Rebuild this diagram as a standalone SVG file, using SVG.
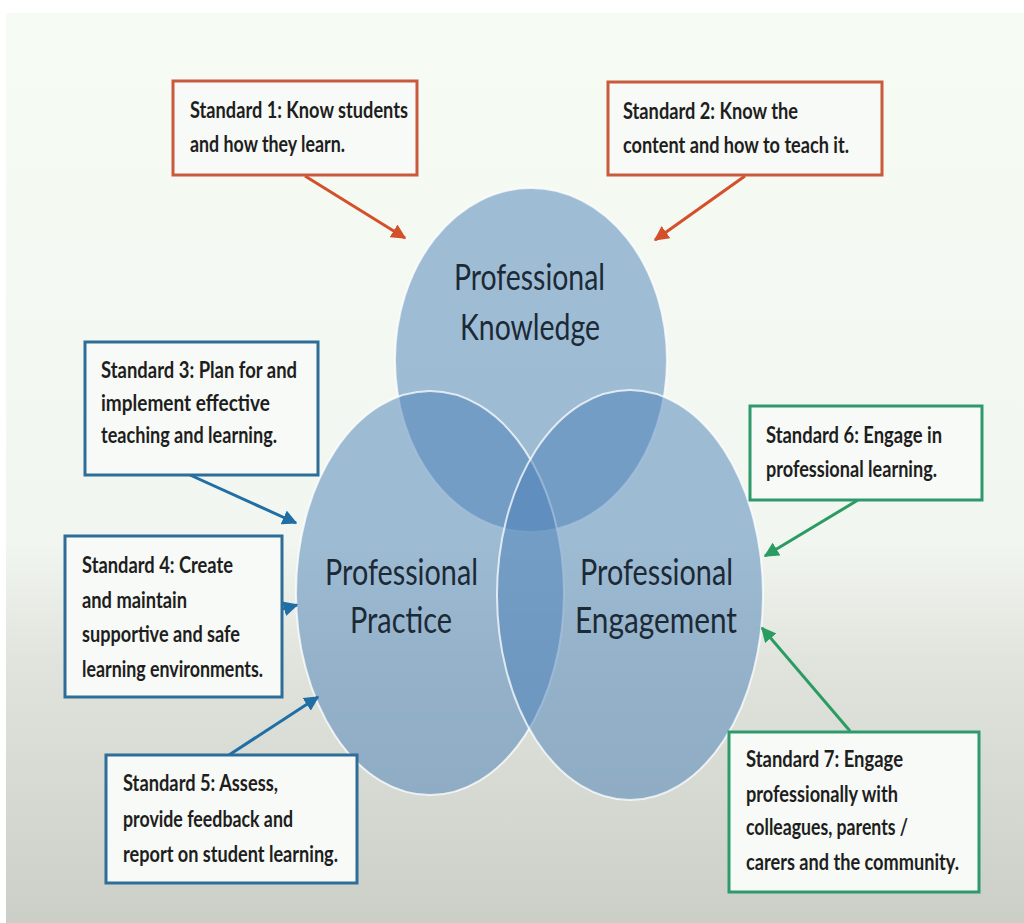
<svg xmlns="http://www.w3.org/2000/svg" width="1024" height="923" viewBox="0 0 1024 923">
<defs>
<linearGradient id="bg" x1="0" y1="0" x2="0" y2="1">
<stop offset="0" stop-color="#f6fbf4"/>
<stop offset="0.58" stop-color="#f2f6f0"/>
<stop offset="0.72" stop-color="#dfe3dc"/>
<stop offset="1" stop-color="#cbcfc8"/>
</linearGradient>
<marker id="ar" viewBox="0 0 10 10" refX="9" refY="5" markerWidth="5" markerHeight="5" orient="auto" markerUnits="strokeWidth"><path d="M0,0 L10,5 L0,10 z" fill="#d4502a"/></marker>
<marker id="ab" viewBox="0 0 10 10" refX="9" refY="5" markerWidth="5" markerHeight="5" orient="auto" markerUnits="strokeWidth"><path d="M0,0 L10,5 L0,10 z" fill="#1f6ea6"/></marker>
<marker id="ag" viewBox="0 0 10 10" refX="9" refY="5" markerWidth="5" markerHeight="5" orient="auto" markerUnits="strokeWidth"><path d="M0,0 L10,5 L0,10 z" fill="#2a9c62"/></marker>
<style>
.box{fill:#f7faf6;stroke-width:3}
.red{stroke:#c95a3c}
.blue{stroke:#2f6d99}
.green{stroke:#2e9a6c}
.t{font-family:Lato,"Open Sans","Liberation Sans",sans-serif;font-weight:bold;font-size:22px;fill:#1e1e1e}
.c{font-family:Lato,"Open Sans","Liberation Sans",sans-serif;font-size:37px;fill:#1c2a36;text-anchor:start}
.circ{fill:#4a7fb8;fill-opacity:0.5;stroke:#ffffff;stroke-opacity:0.75;stroke-width:2}
.lr{stroke:#d4502a;stroke-width:3;fill:none;marker-end:url(#ar)}
.lb{stroke:#1f6ea6;stroke-width:3;fill:none;marker-end:url(#ab)}
.lg{stroke:#2a9c62;stroke-width:3;fill:none;marker-end:url(#ag)}
</style>
</defs>
<rect x="0" y="0" width="1024" height="923" fill="#ffffff"/>
<rect x="6" y="13" width="1018" height="910" fill="url(#bg)"/>

<g id="circles">
<ellipse id="knowledge" class="circ" cx="531" cy="360" rx="136" ry="172"/>
<ellipse id="practice" class="circ" cx="430" cy="593" rx="134" ry="202"/>
<ellipse id="engagement" class="circ" cx="630" cy="595" rx="133" ry="205"/>
<text class="c" x="454" y="290" textLength="151" lengthAdjust="spacingAndGlyphs">Professional</text>
<text class="c" x="460" y="340" textLength="140" lengthAdjust="spacingAndGlyphs">Knowledge</text>
<text class="c" x="325" y="585" textLength="153" lengthAdjust="spacingAndGlyphs">Professional</text>
<text class="c" x="350" y="633" textLength="102" lengthAdjust="spacingAndGlyphs">Practice</text>
<text class="c" x="580" y="585" textLength="153" lengthAdjust="spacingAndGlyphs">Professional</text>
<text class="c" x="575" y="633" textLength="162" lengthAdjust="spacingAndGlyphs">Engagement</text>
</g>

<g id="connectors">
<line class="lr" x1="305" y1="176" x2="405" y2="238"/>
<line class="lr" x1="745" y1="176" x2="655" y2="240"/>
<line class="lb" x1="190" y1="475" x2="296" y2="523"/>
<line class="lb" x1="283" y1="609" x2="297" y2="605"/>
<line class="lb" x1="229" y1="755" x2="318" y2="697"/>
<line class="lg" x1="858" y1="500" x2="765" y2="556"/>
<line class="lg" x1="850" y1="731" x2="762" y2="628"/>
</g>

<g id="std1">
<rect class="box red" x="173" y="81" width="244" height="94"/>
<text class="t" x="190" y="118" textLength="218" lengthAdjust="spacingAndGlyphs">Standard 1:  Know students</text>
<text class="t" x="190" y="152" textLength="155" lengthAdjust="spacingAndGlyphs">and how they learn.</text>
</g>
<g id="std2">
<rect class="box red" x="608" y="82" width="274" height="93"/>
<text class="t" x="623" y="119" textLength="175" lengthAdjust="spacingAndGlyphs">Standard 2:  Know the</text>
<text class="t" x="623" y="153" textLength="226" lengthAdjust="spacingAndGlyphs">content and how to teach it.</text>
</g>
<g id="std3">
<rect class="box blue" x="85" y="342" width="233" height="133"/>
<text class="t" x="101" y="378" textLength="196" lengthAdjust="spacingAndGlyphs">Standard 3:  Plan for and</text>
<text class="t" x="101" y="411" textLength="169" lengthAdjust="spacingAndGlyphs">implement effective</text>
<text class="t" x="101" y="443" textLength="176" lengthAdjust="spacingAndGlyphs">teaching and learning.</text>
</g>
<g id="std4">
<rect class="box blue" x="65" y="536" width="217" height="161"/>
<text class="t" x="82" y="573" textLength="151" lengthAdjust="spacingAndGlyphs">Standard 4:  Create</text>
<text class="t" x="82" y="608" textLength="105" lengthAdjust="spacingAndGlyphs">and maintain</text>
<text class="t" x="82" y="642" textLength="158" lengthAdjust="spacingAndGlyphs">supportive and safe</text>
<text class="t" x="82" y="677" textLength="181" lengthAdjust="spacingAndGlyphs">learning environments.</text>
</g>
<g id="std5">
<rect class="box blue" x="106" y="755" width="251" height="128"/>
<text class="t" x="123" y="791" textLength="155" lengthAdjust="spacingAndGlyphs">Standard 5:  Assess,</text>
<text class="t" x="123" y="827" textLength="170" lengthAdjust="spacingAndGlyphs">provide feedback and</text>
<text class="t" x="123" y="862" textLength="215" lengthAdjust="spacingAndGlyphs">report on student learning.</text>
</g>
<g id="std6">
<rect class="box green" x="750" y="406" width="232" height="94"/>
<text class="t" x="766" y="443" textLength="176" lengthAdjust="spacingAndGlyphs">Standard 6:  Engage in</text>
<text class="t" x="766" y="477" textLength="171" lengthAdjust="spacingAndGlyphs">professional learning.</text>
</g>
<g id="std7">
<rect class="box green" x="729" y="732" width="250" height="160"/>
<text class="t" x="746" y="767" textLength="157" lengthAdjust="spacingAndGlyphs">Standard 7:  Engage</text>
<text class="t" x="746" y="802" textLength="152" lengthAdjust="spacingAndGlyphs">professionally with</text>
<text class="t" x="746" y="835" textLength="162" lengthAdjust="spacingAndGlyphs">colleagues, parents /</text>
<text class="t" x="746" y="870" textLength="213" lengthAdjust="spacingAndGlyphs">carers and the community.</text>
</g>
</svg>
